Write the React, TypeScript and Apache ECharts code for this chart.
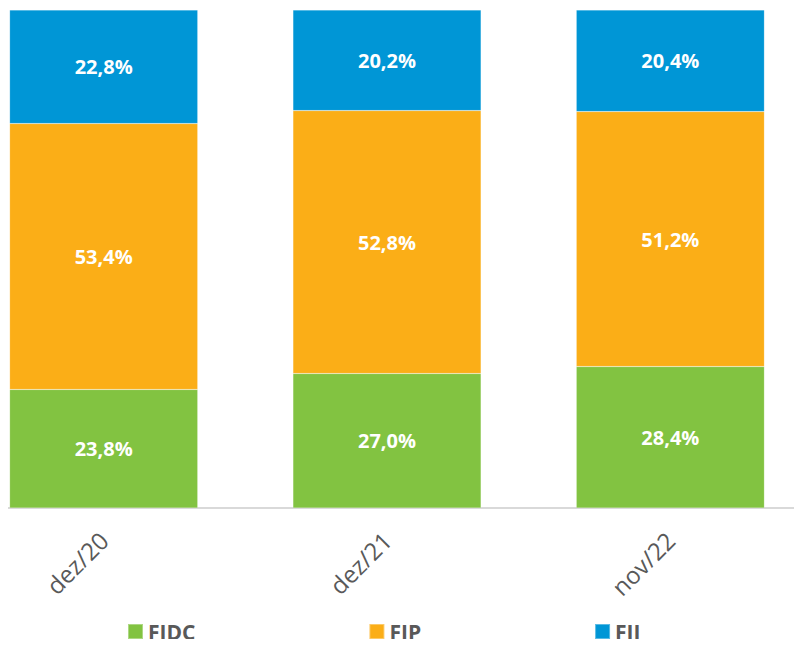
import React, { useEffect, useRef } from "react";
import * as echarts from "echarts";

const categories = ["dez/20", "dez/21", "nov/22"];
const fidc = [23.8, 27.0, 28.4];
const fip = [53.4, 52.8, 51.2];
const fii = [22.8, 20.2, 20.4];

const FONT = "'Open Sans', sans-serif";
const SHIFT = 38;

export default function App() {
  const ref = useRef<HTMLDivElement>(null);
  useEffect(() => {
    const chart = echarts.init(ref.current!, null, { renderer: "svg" });
    const label = {
      show: true,
      position: "inside",
      color: "#ffffff",
      fontFamily: FONT,
      fontWeight: "bold",
      fontSize: 20,
      formatter: (p: any) => p.value.toFixed(1).replace(".", ",") + "%",
    };
    const mk = (name: string, data: number[], color: string) => ({
      name,
      type: "bar",
      stack: "total",
      data,
      barWidth: "66.4%",
      itemStyle: { color, borderColor: "rgba(255,255,255,0.35)", borderWidth: 0.5 },
      label,
    });
    chart.setOption({
      animation: false,
      grid: { left: 0, right: 0, top: 10, bottom: 139, containLabel: false },
      legend: {
        bottom: 5,
        left: 127 + SHIFT,
        padding: 0,
        itemWidth: 15,
        itemHeight: 15,
        itemGap: 173,
        icon: "rect",
        textStyle: { color: "#595959", fontFamily: FONT, fontWeight: "bold", fontSize: 21 },
        data: ["FIDC", "FIP", "FII"],
      },
      xAxis: {
        type: "category",
        data: categories,
        axisLine: { lineStyle: { color: "#d9d9d9", width: 2 } },
        axisTick: { show: false },
        axisLabel: {
          rotate: 45,
          margin: 28,
          color: "#595959",
          fontFamily: FONT,
          fontSize: 24,
        },
      },
      yAxis: { type: "value", min: 0, max: 100, show: false },
      series: [
        mk("FIDC", fidc, "#82c341"),
        mk("FIP", fip, "#fbae17"),
        mk("FII", fii, "#0096d6"),
      ],
    });
    return () => chart.dispose();
  }, []);
  return (
    <div style={{ width: 802, height: 647, margin: -8, overflow: "hidden", position: "relative" }}>
      <div ref={ref} style={{ width: 850, height: 647, position: "absolute", left: -SHIFT, top: 0 }} />
    </div>
  );
}
